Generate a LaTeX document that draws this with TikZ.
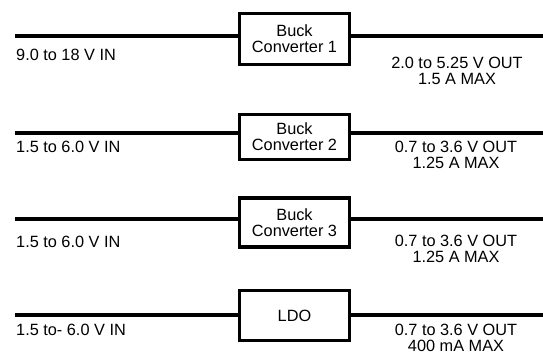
\documentclass[tikz,border=0pt]{standalone}
\usepackage{fontspec}
\setmainfont{Liberation Sans}

\begin{document}
\begin{tikzpicture}[x=1pt,y=-1pt,
	font=\fontsize{16.3}{16}\selectfont,
	conv/.style={draw,line width=3.4pt,minimum width=110pt,inner sep=0pt,align=center},
	wire/.style={line width=3.4pt},
	vin/.style={anchor=base west,inner sep=0pt},
	vout/.style={anchor=base,inner sep=0pt,align=center}]
	\useasboundingbox (0,0) rectangle (543,353);
	% converters
	\node[conv,minimum height=51pt] (b1) at (294.5,39) {Buck\\Converter 1};
	\node[conv,minimum height=45pt] (b2) at (294.5,137) {Buck\\Converter 2};
	\node[conv,minimum height=49pt] (b3) at (294.5,222.5) {Buck\\Converter 3};
	\node[conv,minimum height=50pt] (b4) at (294.5,315.5) {LDO};
	% supply rails
	\coordinate (in1) at (15,36);   \coordinate (out1) at (543,36);
	\coordinate (in2) at (15,133);  \coordinate (out2) at (543,133);
	\coordinate (in3) at (15,219);  \coordinate (out3) at (543,219);
	\coordinate (in4) at (15,315);  \coordinate (out4) at (543,315);
	\foreach \i in {1,...,4}{
		\draw[wire] (in\i) -- (in\i -| b\i.west);
		\draw[wire] (b\i.east |- out\i) -- (out\i);
	}
	% input ranges
	\node[vin] (vin1) at (16,60) {9.0 to 18 V IN};
	\node[vin] (vin2) at (16,152) {1.5 to 6.0 V IN};
	\node[vin] (vin3) at (16,247) {1.5 to 6.0 V IN};
	\node[vin] (vin4) at (16,335) {1.5 to- 6.0 V IN};
	% output ranges (base = last line)
	\node[vout] (vout1) at (457,84) {2.0 to 5.25 V OUT\\1.5 A MAX};
	\node[vout] (vout2) at (456,168) {0.7 to 3.6 V OUT\\1.25 A MAX};
	\node[vout] (vout3) at (456,262) {0.7 to 3.6 V OUT\\1.25 A MAX};
	\node[vout] (vout4) at (456,351) {0.7 to 3.6 V OUT\\400 mA MAX};
\end{tikzpicture}
\end{document}
